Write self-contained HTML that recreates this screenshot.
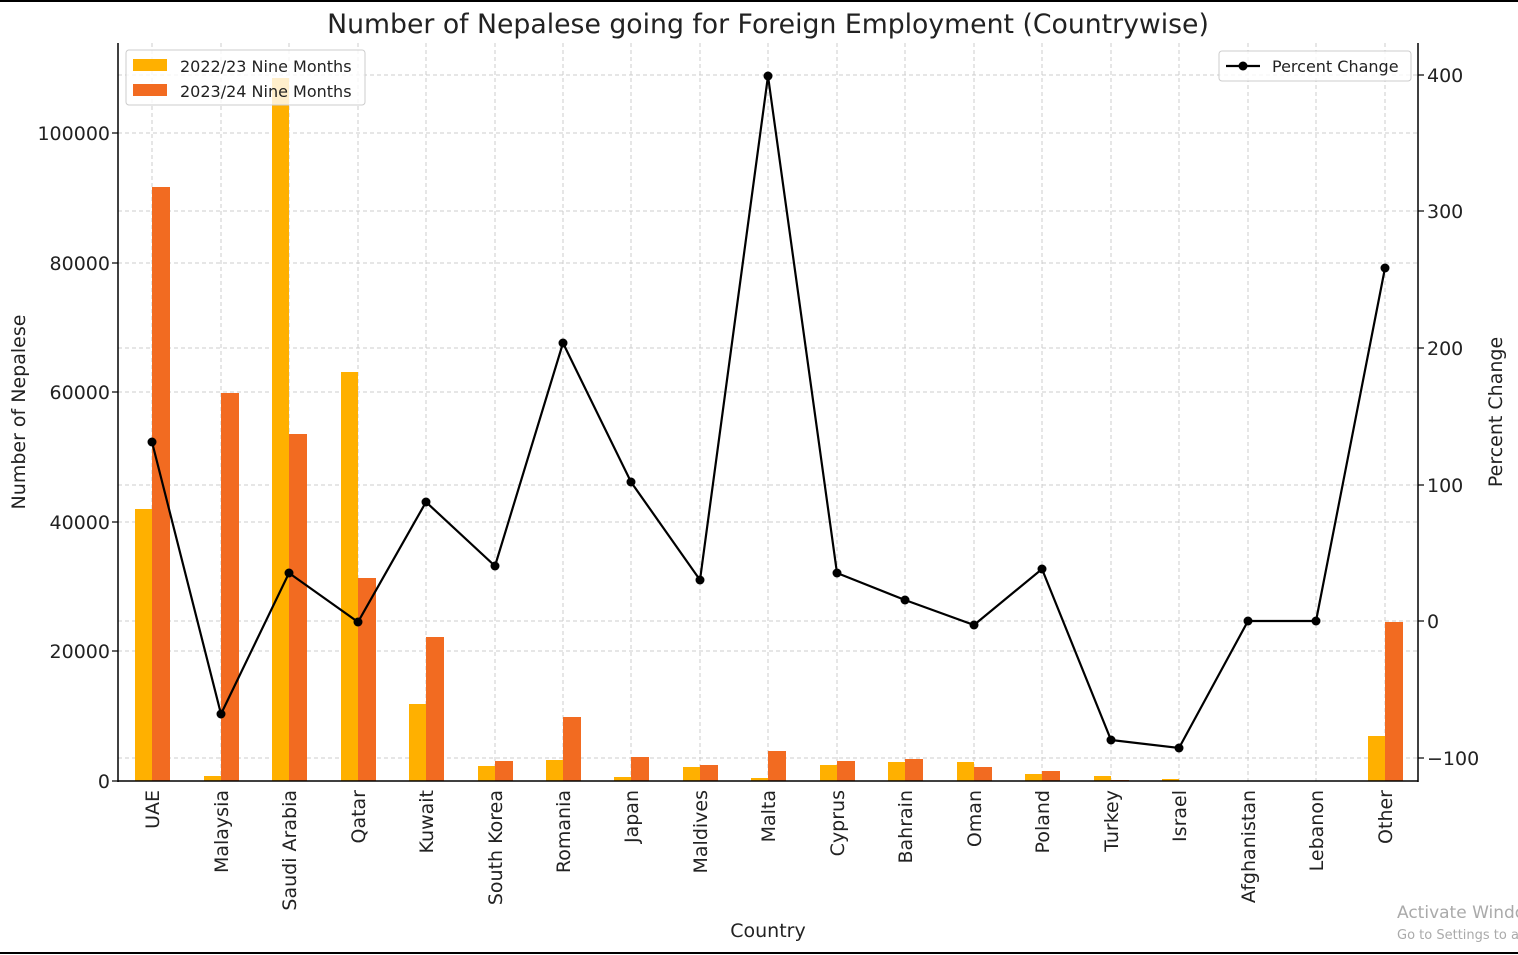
<!DOCTYPE html>
<html><head><meta charset="utf-8"><style>
body{margin:0;background:#fff;}
svg{display:block;font-family:"DejaVu Sans","Liberation Sans",sans-serif;}
</style></head><body>
<svg width="1518" height="955" viewBox="0 0 1518 955" xmlns="http://www.w3.org/2000/svg">
<rect width="1518" height="955" fill="#fff"/>
<line x1="0" y1="1" x2="1518" y2="1" stroke="#000" stroke-width="2"/>
<line x1="0" y1="953" x2="1518" y2="953" stroke="#000" stroke-width="2"/>
<text x="768" y="33" font-size="26.7" text-anchor="middle" fill="#222">Number of Nepalese going for Foreign Employment (Countrywise)</text>
<g stroke="#ccc" stroke-dasharray="4,3" stroke-width="1">
<line x1="118" y1="651" x2="1418" y2="651"/><line x1="118" y1="522" x2="1418" y2="522"/><line x1="118" y1="392" x2="1418" y2="392"/><line x1="118" y1="263" x2="1418" y2="263"/><line x1="118" y1="133" x2="1418" y2="133"/>
<line x1="118" y1="758" x2="1418" y2="758"/><line x1="118" y1="621" x2="1418" y2="621"/><line x1="118" y1="485" x2="1418" y2="485"/><line x1="118" y1="348" x2="1418" y2="348"/><line x1="118" y1="211" x2="1418" y2="211"/><line x1="118" y1="75" x2="1418" y2="75"/>
<line x1="152" y1="43" x2="152" y2="781"/><line x1="221" y1="43" x2="221" y2="781"/><line x1="289" y1="43" x2="289" y2="781"/><line x1="358" y1="43" x2="358" y2="781"/><line x1="426" y1="43" x2="426" y2="781"/><line x1="495" y1="43" x2="495" y2="781"/><line x1="563" y1="43" x2="563" y2="781"/><line x1="631" y1="43" x2="631" y2="781"/><line x1="700" y1="43" x2="700" y2="781"/><line x1="768" y1="43" x2="768" y2="781"/><line x1="837" y1="43" x2="837" y2="781"/><line x1="905" y1="43" x2="905" y2="781"/><line x1="974" y1="43" x2="974" y2="781"/><line x1="1042" y1="43" x2="1042" y2="781"/><line x1="1111" y1="43" x2="1111" y2="781"/><line x1="1179" y1="43" x2="1179" y2="781"/><line x1="1248" y1="43" x2="1248" y2="781"/><line x1="1316" y1="43" x2="1316" y2="781"/><line x1="1385" y1="43" x2="1385" y2="781"/>
</g>
<g fill="#FFB000">
<rect x="135" y="509" width="17" height="272"/><rect x="204" y="776" width="17" height="5"/><rect x="272" y="78" width="17" height="703"/><rect x="341" y="372" width="17" height="409"/><rect x="409" y="704" width="17" height="77"/><rect x="478" y="766" width="17" height="15"/><rect x="546" y="760" width="17" height="21"/><rect x="614" y="777" width="17" height="4"/><rect x="683" y="767" width="17" height="14"/><rect x="751" y="778" width="17" height="3"/><rect x="820" y="765" width="17" height="16"/><rect x="888" y="762" width="17" height="19"/><rect x="957" y="762" width="17" height="19"/><rect x="1025" y="774" width="17" height="7"/><rect x="1094" y="776" width="17" height="5"/><rect x="1162" y="779" width="17" height="2"/><rect x="1368" y="736" width="17" height="45"/>
</g>
<g fill="#F26B21">
<rect x="152" y="187" width="18" height="594"/><rect x="221" y="393" width="18" height="388"/><rect x="289" y="434" width="18" height="347"/><rect x="358" y="578" width="18" height="203"/><rect x="426" y="637" width="18" height="144"/><rect x="495" y="761" width="18" height="20"/><rect x="563" y="717" width="18" height="64"/><rect x="631" y="757" width="18" height="24"/><rect x="700" y="765" width="18" height="16"/><rect x="768" y="751" width="18" height="30"/><rect x="837" y="761" width="18" height="20"/><rect x="905" y="759" width="18" height="22"/><rect x="974" y="767" width="18" height="14"/><rect x="1042" y="771" width="18" height="10"/><rect x="1111" y="780" width="18" height="1"/><rect x="1385" y="622" width="18" height="159"/>
</g>
<polyline fill="none" stroke="#000" stroke-width="2.2" points="152,442 221,714 289,573 358,622 426,502 495,566 563,343 631,482 700,580 768,76 837,573 905,600 974,625 1042,569 1111,740 1179,748 1248,621 1316,621 1385,268"/>
<g fill="#000">
<circle cx="152" cy="442" r="4.5"/><circle cx="221" cy="714" r="4.5"/><circle cx="289" cy="573" r="4.5"/><circle cx="358" cy="622" r="4.5"/><circle cx="426" cy="502" r="4.5"/><circle cx="495" cy="566" r="4.5"/><circle cx="563" cy="343" r="4.5"/><circle cx="631" cy="482" r="4.5"/><circle cx="700" cy="580" r="4.5"/><circle cx="768" cy="76" r="4.5"/><circle cx="837" cy="573" r="4.5"/><circle cx="905" cy="600" r="4.5"/><circle cx="974" cy="625" r="4.5"/><circle cx="1042" cy="569" r="4.5"/><circle cx="1111" cy="740" r="4.5"/><circle cx="1179" cy="748" r="4.5"/><circle cx="1248" cy="621" r="4.5"/><circle cx="1316" cy="621" r="4.5"/><circle cx="1385" cy="268" r="4.5"/>
</g>
<line x1="118" y1="43" x2="118" y2="782" stroke="#000" stroke-width="1.5"/>
<line x1="1418" y1="43" x2="1418" y2="782" stroke="#000" stroke-width="1.5"/>
<line x1="118" y1="781" x2="1418" y2="781" stroke="#000" stroke-width="1.5"/>
<g font-size="19" fill="#222" text-anchor="end">
<text x="110" y="788">0</text><text x="110" y="658">20000</text><text x="110" y="529">40000</text><text x="110" y="399">60000</text><text x="110" y="270">80000</text><text x="110" y="140">100000</text>
</g>
<g stroke="#000" stroke-width="1.2">
<line x1="112" y1="781" x2="118" y2="781"/><line x1="112" y1="651" x2="118" y2="651"/><line x1="112" y1="522" x2="118" y2="522"/><line x1="112" y1="392" x2="118" y2="392"/><line x1="112" y1="263" x2="118" y2="263"/><line x1="112" y1="133" x2="118" y2="133"/>
<line x1="1418" y1="758" x2="1424" y2="758"/><line x1="1418" y1="621" x2="1424" y2="621"/><line x1="1418" y1="485" x2="1424" y2="485"/><line x1="1418" y1="348" x2="1424" y2="348"/><line x1="1418" y1="211" x2="1424" y2="211"/><line x1="1418" y1="75" x2="1424" y2="75"/>
</g>
<g font-size="19" fill="#222">
<text x="1427" y="765">−100</text><text x="1427" y="628">0</text><text x="1427" y="492">100</text><text x="1427" y="355">200</text><text x="1427" y="218">300</text><text x="1427" y="82">400</text>
</g>
<g font-size="19" fill="#222" text-anchor="end">
<text transform="translate(159,790) rotate(-90)">UAE</text><text transform="translate(228,790) rotate(-90)">Malaysia</text><text transform="translate(296,790) rotate(-90)">Saudi Arabia</text><text transform="translate(365,790) rotate(-90)">Qatar</text><text transform="translate(433,790) rotate(-90)">Kuwait</text><text transform="translate(502,790) rotate(-90)">South Korea</text><text transform="translate(570,790) rotate(-90)">Romania</text><text transform="translate(638,790) rotate(-90)">Japan</text><text transform="translate(707,790) rotate(-90)">Maldives</text><text transform="translate(775,790) rotate(-90)">Malta</text><text transform="translate(844,790) rotate(-90)">Cyprus</text><text transform="translate(912,790) rotate(-90)">Bahrain</text><text transform="translate(981,790) rotate(-90)">Oman</text><text transform="translate(1049,790) rotate(-90)">Poland</text><text transform="translate(1118,790) rotate(-90)">Turkey</text><text transform="translate(1186,790) rotate(-90)">Israel</text><text transform="translate(1255,790) rotate(-90)">Afghanistan</text><text transform="translate(1323,790) rotate(-90)">Lebanon</text><text transform="translate(1392,790) rotate(-90)">Other</text>
</g>
<text x="768" y="937" font-size="19" text-anchor="middle" fill="#222">Country</text>
<text transform="translate(25,412) rotate(-90)" font-size="19" text-anchor="middle" fill="#222">Number of Nepalese</text>
<text transform="translate(1502,412) rotate(-90)" font-size="19" text-anchor="middle" fill="#222">Percent Change</text>
<rect x="126" y="50" width="239" height="55" rx="3" fill="#fff" fill-opacity="0.8" stroke="#ccc"/>
<rect x="133" y="59" width="34" height="12" fill="#FFB000"/>
<rect x="133" y="84" width="34" height="12" fill="#F26B21"/>
<text x="180" y="72" font-size="16" fill="#222">2022/23 Nine Months</text>
<text x="180" y="97" font-size="16" fill="#222">2023/24 Nine Months</text>
<rect x="1219" y="51" width="192" height="30" rx="3" fill="#fff" fill-opacity="0.8" stroke="#ccc"/>
<line x1="1226" y1="66" x2="1260" y2="66" stroke="#000" stroke-width="2.2"/>
<circle cx="1243" cy="66" r="4.5" fill="#000"/>
<text x="1272" y="72" font-size="16" fill="#222">Percent Change</text>
<text x="1397" y="918" font-size="17" fill="#aaa">Activate Windows</text>
<text x="1397" y="939" font-size="13" fill="#aaa">Go to Settings to activate</text>
</svg>
</body></html>
